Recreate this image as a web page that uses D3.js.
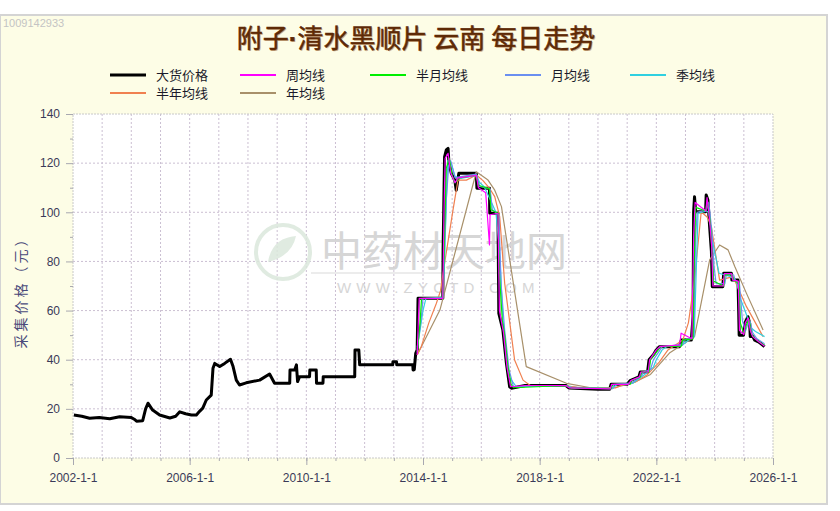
<!DOCTYPE html>
<html><head><meta charset="utf-8">
<script src="https://cdn.jsdelivr.net/npm/d3@7"></script>
<style>body{margin:0;background:#fff;}svg{display:block;font-family:"Liberation Sans",Arial,sans-serif;}</style>
</head><body><svg id="c" width="840" height="511"></svg>
<script>
// ---------- data (decimal year, value) ----------
const titleParts = ["附子","·","清水黑顺片 云南 每日走势"];
const yAxisTitle = "采集价格（元）";
const seriesNames = ["大货价格","周均线","半月均线","月均线","季均线","半年均线","年均线"];
const seriesColors = ["#000000","#ff00ff","#00ee00","#6a8ff0","#30d0e0","#f08050","#a8906a"];
const yTicks = [0,20,40,60,80,100,120,140];
const xTickYears = [2002,2006,2010,2014,2018,2022,2026];
const xTickLabels = ["2002-1-1","2006-1-1","2010-1-1","2014-1-1","2018-1-1","2022-1-1","2026-1-1"];

const price = [[2002.03,17.5],[2002.3,17.0],[2002.57,16.2],[2002.9,16.5],[2003.26,16.0],[2003.6,16.8],[2004.0,16.5],[2004.1,15.8],[2004.18,15.0],[2004.39,15.2],[2004.49,20.0],[2004.57,22.3],[2004.73,19.5],[2004.97,17.5],[2005.32,16.3],[2005.52,17.0],[2005.66,18.8],[2005.86,18.0],[2006.06,17.5],[2006.23,17.5],[2006.34,19.0],[2006.45,20.3],[2006.57,23.6],[2006.74,25.6],[2006.8,36.5],[2006.86,38.5],[2007.03,37.2],[2007.2,38.5],[2007.4,40.2],[2007.49,37.2],[2007.6,31.7],[2007.71,29.7],[2007.94,30.6],[2008.4,31.7],[2008.74,34.2],[2008.91,30.4],[2009.43,30.4],[2009.44,35.8],[2009.6,35.8],[2009.66,37.9],[2009.7,31.1],[2009.77,33.1],[2010.11,33.1],[2010.12,35.8],[2010.34,35.8],[2010.35,30.4],[2010.57,30.4],[2010.58,33.1],[2011.66,33.1],[2011.67,44.0],[2011.8,44],[2011.83,37.9],[2012.96,37.9],[2012.97,39.2],[2013.09,39.2],[2013.1,37.9],[2013.65,37.9],[2013.66,35.8],[2013.7,36],[2013.75,42.6],[2013.8,44],[2013.83,65.0],[2014.68,65.0],[2014.69,84.7],[2014.74,122.6],[2014.8,125.4],[2014.86,126],[2014.89,120],[2014.97,115.9],[2015.09,113.1],[2015.14,109],[2015.23,115.9],[2015.83,115.9],[2015.85,109.8],[2016.28,109.8],[2016.29,99.6],[2016.57,99.6],[2016.6,58.9],[2016.74,52],[2016.86,38.5],[2016.97,29],[2017.03,28.4],[2017.5,29.5],[2018.9,29.5],[2019.0,28.5],[2020.0,28.0],[2020.4,28.0],[2020.45,30.0],[2021.0,30],[2021.1,31.5],[2021.4,33],[2021.45,35],[2021.7,35],[2021.75,40],[2021.9,42],[2022.0,44],[2022.1,45.3],[2022.79,45.3],[2022.86,48],[2023.2,48],[2023.26,57.5],[2023.28,100.2],[2023.31,106.3],[2023.35,100.2],[2023.69,100.2],[2023.71,107],[2023.77,105],[2023.83,94],[2023.89,84],[2023.92,69.7],[2024.28,69.7],[2024.31,75.2],[2024.57,75.2],[2024.59,72.4],[2024.8,72.4],[2024.82,61.6],[2024.84,50],[2024.99,50],[2025.03,54.8],[2025.14,57.5],[2025.2,54.8],[2025.22,49.4],[2025.31,49.4],[2025.37,48],[2025.48,47.4],[2025.57,46.7],[2025.71,45.3]];

const maWeek = [[2013.8,42],[2013.85,59],[2013.87,65],[2014.68,65],[2014.72,100],[2014.76,122],[2014.86,124],[2014.95,116],[2015.1,112],[2015.2,114],[2015.83,115],[2015.9,110],[2016.15,108],[2016.2,100],[2016.28,86.7],[2016.3,99],[2016.57,99.6],[2016.62,60],[2016.76,51],[2016.88,37],[2017.0,29],[2017.5,29.5],[2018.9,29.5],[2019.02,28.5],[2020.42,28.1],[2020.47,30],[2021.05,30],[2021.12,31.5],[2021.42,33],[2021.47,35],[2021.72,35],[2021.77,40],[2022.0,44],[2022.12,45.3],[2022.8,46],[2022.85,50.8],[2023.22,48.5],[2023.28,90],[2023.33,104],[2023.7,100.5],[2023.74,106],[2023.82,98],[2023.9,86],[2023.94,70],[2024.29,70],[2024.33,75],[2024.58,75],[2024.62,72.4],[2024.81,72],[2024.85,52],[2025.0,50.2],[2025.05,55],[2025.15,57],[2025.22,52],[2025.3,49.4],[2025.5,47.4],[2025.71,45.5]];

const maHalfMonth = [[2013.8,43],[2013.9,55],[2013.95,65],[2014.68,65],[2014.75,95],[2014.8,118],[2014.9,122],[2015.0,115],[2015.1,112],[2015.25,114],[2015.83,115],[2015.9,111],[2016.28,109.5],[2016.33,101],[2016.57,99.6],[2016.62,75],[2016.72,56],[2016.8,50],[2016.9,38],[2017.02,30],[2017.1,28.6],[2018.9,29.5],[2019.05,28.5],[2020.45,28.2],[2020.5,30],[2021.1,30],[2021.15,31.5],[2021.45,33],[2021.5,35],[2021.75,35],[2021.8,40],[2022.0,43],[2022.15,45.3],[2022.86,45.5],[2022.9,48],[2023.26,48.5],[2023.3,80],[2023.35,102],[2023.7,100.5],[2023.75,105],[2023.85,96],[2023.9,86],[2023.96,72],[2024.3,70],[2024.35,74.5],[2024.6,74.5],[2024.65,72.4],[2024.83,71],[2024.88,55],[2025.0,50.5],[2025.08,54],[2025.18,56.5],[2025.25,51],[2025.35,49],[2025.5,47.5],[2025.71,45.8]];

const maMonth = [[2013.8,44],[2013.95,58],[2014.0,65],[2014.68,65],[2014.8,105],[2014.88,119],[2014.95,121],[2015.1,114],[2015.3,114.5],[2015.83,115.5],[2015.95,110.5],[2016.3,109.5],[2016.38,101],[2016.6,99],[2016.68,70],[2016.8,52],[2016.95,36],[2017.1,29],[2018.9,29.5],[2019.1,28.5],[2020.5,28.2],[2020.55,30],[2021.15,30.5],[2021.5,33.5],[2021.55,35],[2021.8,36],[2021.9,40],[2022.1,43.5],[2022.2,45.3],[2022.9,45.8],[2022.95,48],[2023.28,49],[2023.35,90],[2023.4,100],[2023.72,101],[2023.8,104],[2023.9,93],[2023.98,78],[2024.05,71],[2024.35,71],[2024.4,74.5],[2024.65,74.5],[2024.7,72.5],[2024.85,71],[2024.95,56],[2025.05,51.5],[2025.15,55],[2025.22,55.5],[2025.3,51],[2025.45,48.5],[2025.71,46.5]];

const maQuarter = [[2013.8,45],[2013.9,52],[2014.0,60],[2014.1,65],[2014.68,65.5],[2014.74,80],[2014.8,105],[2014.85,121],[2014.97,120],[2015.1,114.5],[2015.3,113.8],[2015.83,115],[2015.95,112],[2016.1,110.4],[2016.35,104],[2016.5,100],[2016.62,85],[2016.75,55],[2016.85,42],[2016.95,33],[2017.2,29],[2018.9,29.5],[2019.2,28.5],[2020.5,28.3],[2020.65,30],[2021.2,30.5],[2021.6,34],[2021.9,37],[2022.0,40],[2022.2,44],[2022.35,45.3],[2022.95,46.5],[2023.1,48],[2023.3,49.4],[2023.43,99.6],[2023.72,100.5],[2023.8,100],[2023.92,88.7],[2024.15,75.2],[2024.55,73.8],[2024.75,72],[2024.9,64.3],[2025.1,58],[2025.2,53.4],[2025.4,51.5],[2025.71,49.4]];

const maHalfYear = [[2013.8,42],[2013.94,45.3],[2014.2,55],[2014.46,63],[2014.6,68],[2014.74,79.2],[2015.03,101],[2015.2,113.1],[2015.49,113.1],[2015.83,115.2],[2016.05,113],[2016.28,109.8],[2016.46,106.4],[2016.63,98.2],[2016.8,71.1],[2017.14,39.9],[2017.43,31.7],[2017.7,29.3],[2019.0,29.3],[2019.4,28.5],[2020.6,28.5],[2020.9,30],[2021.3,31],[2021.7,34],[2022.1,39],[2022.4,44],[2022.91,48],[2023.1,55],[2023.31,72.4],[2023.54,100.2],[2023.75,98],[2023.89,94],[2024.17,72.4],[2024.63,73.8],[2025.09,61.6],[2025.66,49.4]];

const maYear = [[2013.8,41.9],[2014.58,60.2],[2015.83,116.5],[2016.23,113.1],[2016.46,109],[2016.69,102.3],[2017.54,37.2],[2018.92,30.4],[2019.8,28.5],[2020.5,28.5],[2021.2,30.5],[2021.8,34],[2022.45,42.7],[2023.14,48],[2023.31,49.4],[2023.83,80.6],[2024.17,86.7],[2024.46,84.7],[2024.69,77.9],[2025.09,67],[2025.66,52.1]];

// ---------- drawing ----------
const toDate = y => { const yr = Math.floor(y); const a = new Date(yr,0,1).getTime(), b = new Date(yr+1,0,1).getTime(); return new Date(a + (y-yr)*(b-a)); };
const svg = d3.select("#c");
const L=73, R=773, T=114, B=458;
const x = d3.scaleTime().domain([new Date(2002,0,1), new Date(2026,0,1)]).range([L,R]);
const y = d3.scaleLinear().domain([0,140]).range([B,T]);

// background panel
svg.append("rect").attr("x",0).attr("y",15).attr("width",827).attr("height",489).attr("fill","#fdfde6").attr("stroke","#d4d4d4").attr("stroke-width",2);
svg.append("text").attr("x",3).attr("y",27).attr("font-size",11).attr("fill","#c4c4c4").text("1009142933");

// title
function drawTitle(fill, dx, dy, stroke){
  const t = svg.append("text").attr("x",416+dx).attr("y",48+dy).attr("text-anchor","middle")
    .attr("font-family","'Noto Sans CJK SC'").attr("font-size",26).attr("fill",fill);
  if (stroke) t.attr("stroke",stroke).attr("stroke-width",0.5);
  t.append("tspan").text(titleParts[0]);
  t.append("tspan").attr("font-family","'Liberation Sans'").attr("font-weight","bold").text(titleParts[1]);
  t.append("tspan").text(titleParts[2]);
}
drawTitle("#d0b088",1,1,null);
drawTitle("#5e2a06",0,0,"#5e2a06");

// legend
const legPos = [[110,80],[240,80],[370,80],[505,80],[630,80],[110,98],[240,98]];
seriesNames.forEach((n,i)=>{
  const [lx,ly]=legPos[i];
  svg.append("line").attr("x1",lx).attr("x2",lx+36).attr("y1",ly-5).attr("y2",ly-5).attr("stroke",seriesColors[i]).attr("stroke-width",i===0?3:2);
  svg.append("text").attr("x",lx+46).attr("y",ly).attr("font-family","'Noto Sans CJK SC'").attr("font-size",13).attr("fill","#1a1a2a").text(n);
});

// plot area
svg.append("rect").attr("x",L).attr("y",T).attr("width",R-L).attr("height",B-T).attr("fill","#ffffff");

// grid
const years = d3.range(2003,2026).map(v=>new Date(v,0,1));
svg.append("g").selectAll("line").data(years).join("line")
  .attr("x1",d=>x(d)).attr("x2",d=>x(d)).attr("y1",T).attr("y2",B)
  .attr("stroke","#cbbfd2").attr("stroke-dasharray","2,2").attr("stroke-width",1);
svg.append("g").selectAll("line").data(yTicks.slice(1,-1)).join("line")
  .attr("x1",L).attr("x2",R).attr("y1",d=>y(d)).attr("y2",d=>y(d))
  .attr("stroke","#cbbfd2").attr("stroke-dasharray","2,2").attr("stroke-width",1);
svg.append("rect").attr("x",L).attr("y",T).attr("width",R-L).attr("height",B-T).attr("fill","none").attr("stroke","#c8c8c8").attr("stroke-dasharray","2,1");

// watermark
const wm = svg.append("g").attr("opacity",0.85);
wm.append("circle").attr("cx",283).attr("cy",252).attr("r",27).attr("fill","none").attr("stroke","#dbe8dc").attr("stroke-width",4);
wm.append("path").attr("d","M268,262 Q272,238 296,236 Q292,256 268,262 Z").attr("fill","#dbe8dc");
wm.append("text").attr("x",321).attr("y",266).attr("font-family","'Noto Sans CJK SC'").attr("font-size",41).attr("fill","#d0d0d0").text("中药材天地网");
wm.append("line").attr("x1",311).attr("x2",580).attr("y1",273).attr("y2",273).attr("stroke","#e2e2e2").attr("stroke-width",1.5);
wm.append("text").attr("x",337).attr("y",293).attr("font-size",15).attr("letter-spacing",5.2).attr("fill","#d0d0d0").text("WWW.ZYCTD.COM");

// axes
const yAxis = d3.axisLeft(y).tickValues(yTicks).tickSize(7).tickPadding(6);
svg.append("g").attr("transform",`translate(${L},0)`).call(yAxis);
svg.append("g").attr("transform",`translate(${L},0)`).call(d3.axisLeft(y).tickValues(d3.range(10,140,20)).tickSize(3).tickFormat(""));
const xAxis = d3.axisBottom(x).tickValues(xTickYears.map(v=>new Date(v,0,1))).tickSize(7).tickPadding(8).tickFormat((d,i)=>xTickLabels[i]);
svg.append("g").attr("transform",`translate(0,${B})`).call(xAxis);
svg.append("g").attr("transform",`translate(0,${B})`).call(d3.axisBottom(x).tickValues(years).tickSize(3).tickFormat(""));
svg.selectAll(".domain").remove();
svg.selectAll(".tick line").attr("stroke","#a8a8b0");
svg.selectAll(".tick text").attr("font-size",12).attr("fill","#3a3a58");

// y axis title
svg.append("text").attr("transform","translate(26,289) rotate(-90)").attr("text-anchor","middle")
  .attr("font-family","'Noto Sans CJK SC'").attr("font-size",14).attr("letter-spacing",3).attr("fill","#4a4a7a").text(yAxisTitle);

// lines
const line = d3.line().x(d=>x(toDate(d[0]))).y(d=>y(d[1]));
const allSeries = [price, maWeek, maHalfMonth, maMonth, maQuarter, maHalfYear, maYear];
const drawOrder = [0,6,5,4,3,2,1];
drawOrder.forEach(i=>{
  svg.append("path").datum(allSeries[i]).attr("d",line).attr("fill","none")
    .attr("stroke",seriesColors[i]).attr("stroke-width",i===0?3:1.2).attr("stroke-linejoin","round");
});
</script></body></html>
